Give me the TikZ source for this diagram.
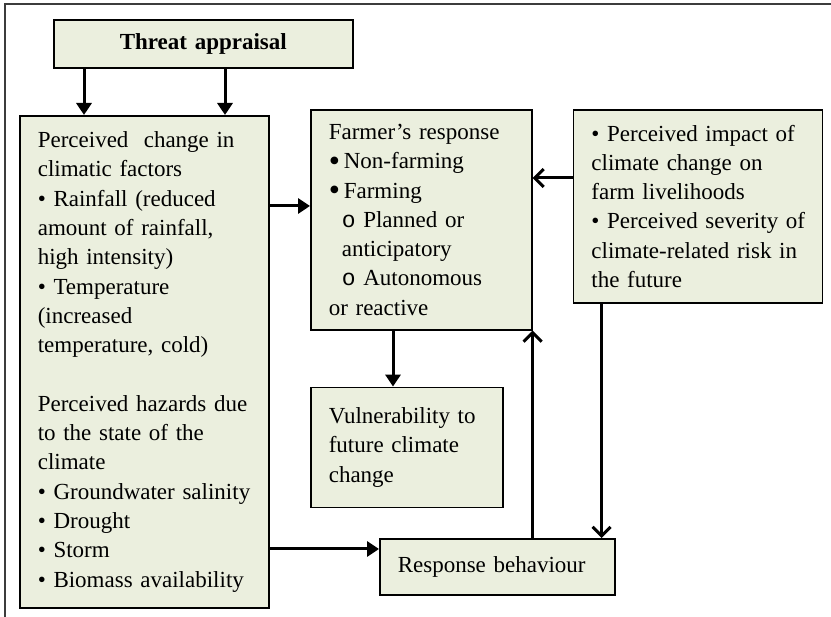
\documentclass[tikz,border=0pt]{standalone}
\usepackage{fontspec}
\setmainfont{Liberation Serif}
\newfontfamily\bulletfont{Liberation Mono}
\usetikzlibrary{arrows.meta, positioning, calc}

\definecolor{boxfill}{RGB}{235,239,222}
\definecolor{framegray}{RGB}{60,60,60}
\newcommand{\fullbul}{\raisebox{-2.5pt}{\fontsize{32}{0}\selectfont •}}
\newcommand{\openbul}{{\bulletfont o}}

\begin{document}
\begin{tikzpicture}[
    x=1pt, y=-1pt,
    node distance=40pt,
    box/.style={
        rectangle,
        draw,
        line width=1.6pt,
        fill=boxfill,
        inner xsep=18pt,
        inner ysep=0pt,
        align=left,
        anchor=north west,
        font=\fontsize{23}{29.3}\selectfont
    },
    line/.style={
        draw,
        line width=3pt,
        -{Triangle[length=12pt,width=15pt]}
    },
    openline/.style={
        draw,
        line width=3pt,
        -{Straight Barb[length=9pt,width=18pt,line width=3pt]}
    }
]
    \useasboundingbox (0,0) rectangle (831,617);

    % --- Frame ---
    \draw [framegray, line width=2pt] (831,4) -| (5,617);

    % --- Nodes ---

    % Appraisal at the top
    \node [box, align=center, text width=263pt, minimum height=48pt,
        font=\fontsize{23}{29.3}\selectfont\bfseries] (threat) at (53,19) {Threat appraisal};

    % Perceived changes and hazards
    \node [box, text width=213pt, minimum height=492pt] (perceived) at (19,115)
        {Perceived\ \ change in\\
         climatic factors\\
         • Rainfall (reduced\\
         amount of rainfall,\\
         high intensity)\\
         • Temperature\\
         (increased\\
         temperature, cold)\\[29.3pt]
         Perceived hazards due\\
         to the state of the\\
         climate\\
         • Groundwater salinity\\
         • Drought\\
         • Storm\\
         • Biomass availability};

    % Farmer's response
    \node [box, text width=185pt, minimum height=220pt] (response) at (310,109)
        {Farmer’s response\\
         \fullbul\,Non-farming\\
         \fullbul\,Farming\\
         \hspace*{13pt}\openbul\ Planned or\\
         \hspace*{13pt}anticipatory\\
         \hspace*{13pt}\openbul\ Autonomous\\
         or reactive};

    % Impact and severity
    \node [box, right=40pt of response.north east, anchor=north west,
        text width=213pt, minimum height=193pt] (impact)
        {\mbox{• Perceived impact of}\\
         climate change on\\
         farm livelihoods\\
         \mbox{• Perceived severity of}\\
         \mbox{climate-related risk in}\\
         the future};

    % Vulnerability
    \node [box, below=56pt of response.south west, anchor=north west,
        text width=156pt, minimum height=120pt] (vulner)
        {Vulnerability to\\
         future climate\\
         change};

    % Behaviour
    \node [box, text width=199pt, minimum height=56pt] (behaviour) at (379,538)
        {Response behaviour};

    % --- Connector ends ---
    \coordinate (in1) at ([yshift=-97pt]response.north west);
    \coordinate (in2) at ([yshift=-69pt]impact.north west);
    \coordinate (in3) at ([yshift=-11pt]behaviour.north west);

    % --- Connections ---
    \draw [line] ([xshift=31pt]threat.south west) -- ([xshift=31pt]threat.south west |- perceived.north);
    \draw [line] ([xshift=172pt]threat.south west) -- ([xshift=172pt]threat.south west |- perceived.north);
    \draw [line] (perceived.east |- in1) -- (in1);
    \draw [openline] (in2) -- (response.east |- in2);
    \draw [line] ([xshift=83pt]response.south west) -- ([xshift=83pt]response.south west |- vulner.north);
    \draw [line] (perceived.east |- in3) -- (in3);

    % Feedback paths
    \draw [openline] (response.south east |- behaviour.north) -- (response.south east);
    \draw [openline] ([xshift=29pt]impact.south west) -- ([xshift=29pt]impact.south west |- behaviour.north);

\end{tikzpicture}
\end{document}
